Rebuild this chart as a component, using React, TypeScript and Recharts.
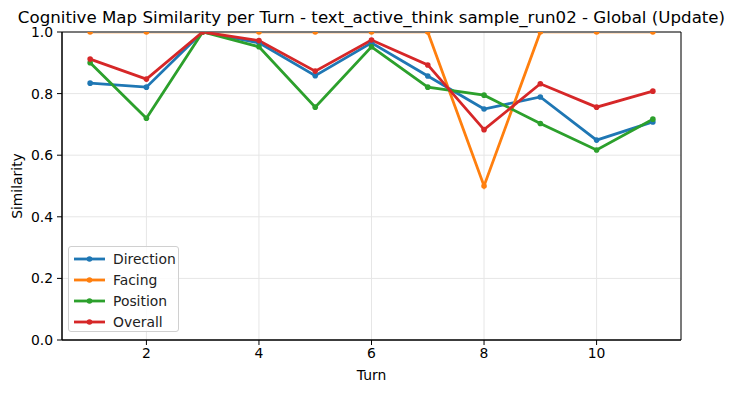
import { LineChart, Line, XAxis, YAxis, CartesianGrid, ReferenceArea, Legend, Label } from 'recharts';

const turns = [1, 2, 3, 4, 5, 6, 7, 8, 9, 10, 11];
const direction = [0.834, 0.821, 1.0, 0.965, 0.858, 0.965, 0.857, 0.75, 0.789, 0.649, 0.708];
const facing = [1.0, 1.0, 1.0, 1.0, 1.0, 1.0, 1.0, 0.5, 1.0, 1.0, 1.0];
const position = [0.9, 0.72, 1.0, 0.952, 0.756, 0.952, 0.821, 0.795, 0.703, 0.617, 0.717];
const overall = [0.912, 0.847, 1.0, 0.972, 0.873, 0.974, 0.893, 0.683, 0.832, 0.756, 0.808];

const xTicks = [2, 4, 6, 8, 10];
const yTicks = [0, 0.2, 0.4, 0.6, 0.8, 1.0];

const series = [
  { key: 'direction', name: 'Direction', color: '#1f77b4' },
  { key: 'facing', name: 'Facing', color: '#ff7f0e' },
  { key: 'position', name: 'Position', color: '#2ca02c' },
  { key: 'overall', name: 'Overall', color: '#d62728' },
];

const data = turns.map((turn, i) => ({
  turn,
  direction: direction[i],
  facing: facing[i],
  position: position[i],
  overall: overall[i],
}));

const font = "'DejaVu Sans', sans-serif";

// legend box, lower left like matplotlib
function LegendBox() {
  return (
    <div
      style={{
        width: 111,
        height: 86,
        background: 'rgba(255,255,255,0.8)',
        border: '1px solid #d0d0d0',
        borderRadius: 3,
        boxSizing: 'border-box',
        paddingTop: 1,
        fontFamily: font,
        fontSize: 13.9,
        color: '#222',
      }}
    >
      {series.map((s) => (
        <div key={s.key} style={{ display: 'flex', alignItems: 'center', height: 21 }}>
          <svg width={40} height={10} style={{ marginLeft: 4 }}>
            <line x1={1} y1={5} x2={32} y2={5} stroke={s.color} strokeWidth={2.8} />
            <circle cx={16.5} cy={5} r={2.8} fill={s.color} />
          </svg>
          <span>{s.name}</span>
        </div>
      ))}
    </div>
  );
}

export default function App() {
  return (
    <div style={{ position: 'absolute', left: 0, top: 0, width: 733, height: 393, background: '#fff', fontFamily: font }}>
      {/* matplotlib drops segments lying on the top edge, so the 1.0 run of the line vanishes */}
      <style>{'.edge-line .recharts-line-curve { clip-path: url(#edgeClip); }'}</style>
      <svg width={0} height={0} style={{ position: 'absolute' }}>
        <defs>
          <clipPath id='edgeClip' clipPathUnits='userSpaceOnUse'>
            <rect x={0} y={33.6} width={733} height={360} />
          </clipPath>
        </defs>
      </svg>
      <div
        style={{
          position: 'absolute',
          left: 0,
          width: 743,
          top: 8,
          textAlign: 'center',
          fontSize: 16.67,
          lineHeight: '20px',
          color: '#000',
        }}
      >
        Cognitive Map Similarity per Turn - text_active_think sample_run02 - Global (Update)
      </div>
      <LineChart
        width={733}
        height={393}
        data={data}
        margin={{ top: 32, right: 52, left: 0, bottom: 0 }}
        style={{ fontFamily: font }}
      >
        <CartesianGrid stroke='#e6e6e6' strokeWidth={1} />
        <XAxis
          dataKey='turn'
          type='number'
          domain={[0.5, 11.5]}
          ticks={xTicks}
          height={53}
          tickSize={5}
          tickMargin={3}
          axisLine={{ stroke: '#000' }}
          tickLine={{ stroke: '#000' }}
          tick={{ fill: '#000', fontSize: 13.9 }}
        >
          <Label value='Turn' position='insideBottom' offset={13} style={{ fill: '#000', fontSize: 13.9 }} />
        </XAxis>
        <YAxis
          type='number'
          domain={[0, 1]}
          allowDataOverflow
          ticks={yTicks}
          width={62}
          tickSize={5}
          tickMargin={4}
          tickFormatter={(v: number) => v.toFixed(1)}
          axisLine={{ stroke: '#000' }}
          tickLine={{ stroke: '#000' }}
          tick={{ fill: '#000', fontSize: 13.9 }}
        >
          <Label
            value='Similarity'
            angle={-90}
            position='insideLeft'
            offset={17}
            style={{ fill: '#000', fontSize: 13.9, textAnchor: 'middle' }}
          />
        </YAxis>
        <Legend
          layout='vertical'
          align='center'
          verticalAlign='middle'
          wrapperStyle={{ left: 68, top: 246, width: 111 }}
          content={() => <LegendBox />}
        />
        {series.map((s) => (
          <Line
            key={s.key}
            className={s.key === 'facing' ? 'edge-line' : undefined}
            dataKey={s.key}
            name={s.name}
            type='linear'
            stroke={s.color}
            strokeWidth={2.8}
            dot={{ r: 2.8, fill: s.color, stroke: s.color, strokeWidth: 0 }}
            activeDot={false}
            isAnimationActive={false}
          />
        ))}
        <ReferenceArea x1={0.5} x2={11.5} y1={0} y2={1} fill='none' stroke='#000' strokeWidth={1} />
      </LineChart>
    </div>
  );
}
